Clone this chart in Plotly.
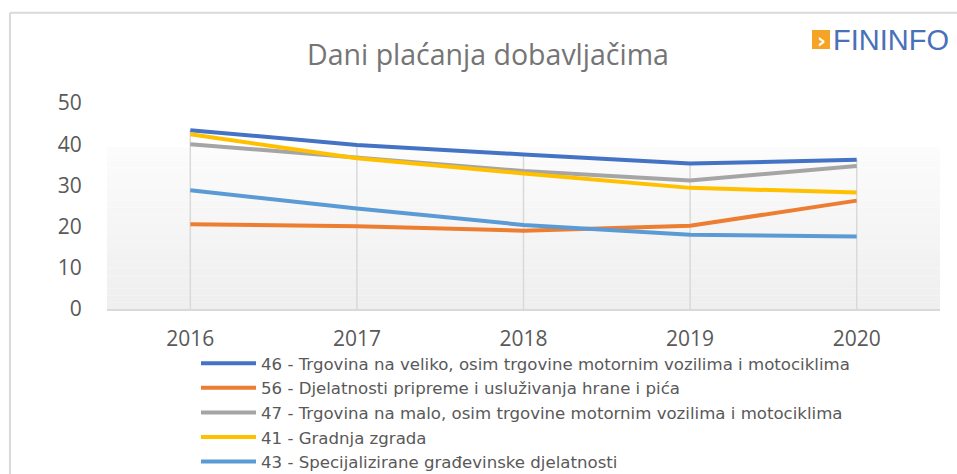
import plotly.graph_objects as go

years = [2016, 2017, 2018, 2019, 2020]
series_names = [
    "46 - Trgovina na veliko, osim trgovine motornim vozilima i motociklima",
    "56 - Djelatnosti pripreme i usluživanja hrane i pića",
    "47 - Trgovina na malo, osim trgovine motornim vozilima i motociklima",
    "41 - Gradnja zgrada",
    "43 - Specijalizirane građevinske djelatnosti",
]
s46 = [43.4, 39.8, 37.5, 35.3, 36.2]
s56 = [20.6, 20.1, 19.0, 20.2, 26.3]
s47 = [40.0, 36.7, 33.5, 31.2, 34.7]
s41 = [42.4, 36.6, 32.9, 29.4, 28.3]
s43 = [28.8, 24.4, 20.4, 18.0, 17.6]
series_values = [s46, s56, s47, s41, s43]
series_colors = ["#4472C4", "#ED7D31", "#A5A5A5", "#FFC000", "#5B9BD5"]
y_ticks = [0, 10, 20, 30, 40, 50]

TXT = "#595959"
FONT = "Open Sans"

fig = go.Figure()

# drop lines from the highest value in each year down to the axis
tops = [max(v[i] for v in series_values) for i in range(len(years))]
dx, dy = [], []
for yr, t in zip(years, tops):
    dx += [yr, yr, None]
    dy += [0, t, None]
fig.add_trace(go.Scatter(x=dx, y=dy, mode="lines", line=dict(color="#d9d9d9", width=1.5),
                         showlegend=False, hoverinfo="skip"))

for name, vals, col in zip(series_names, series_values, series_colors):
    fig.add_trace(go.Scatter(x=years, y=vals, name=name, mode="lines",
                             line=dict(color=col, width=4)))

shapes = []
# gradient plot-area fill (bands)
n = 24
top_val = 39.3
for i in range(n):
    y0 = top_val * i / n
    y1 = top_val * (i + 1) / n
    c = int(239 + (252 - 239) * (i / (n - 1)))
    shapes.append(dict(type="rect", xref="paper", yref="y", x0=0, x1=1, y0=y0, y1=y1,
                       fillcolor=f"rgb({c},{c},{c})", line=dict(width=0), layer="below"))
# chart border
shapes.append(dict(type="line", xref="paper", yref="paper", x0=-0.1165, x1=1.2,
                   y0=1.4383, y1=1.4383, line=dict(color="#d9d9d9", width=2)))
shapes.append(dict(type="line", xref="paper", yref="paper", x0=-0.1165, x1=-0.1165,
                   y0=1.4383, y1=-0.9, line=dict(color="#d9d9d9", width=2)))
# logo square
shapes.append(dict(type="rect", xref="paper", yref="paper",
                   x0=(812 - 107) / 833, x1=(830 - 107) / 833,
                   y0=(309 - 49) / 206, y1=(309 - 30) / 206,
                   fillcolor="#F5A425", line=dict(width=0)))

annotations = [
    dict(text="FININFO", xref="paper", yref="paper", x=(831 - 107) / 833, y=(309 - 40) / 206,
         xanchor="left", yanchor="middle", showarrow=False,
         font=dict(family="Liberation Sans", size=29, color="#4A70B8")),
    dict(text="<b>›</b>", xref="paper", yref="paper", x=(821.5 - 107) / 833, y=(309 - 41) / 206,
         xanchor="center", yanchor="middle", showarrow=False,
         font=dict(family="DejaVu Sans", size=22, color="white")),
]

fig.update_layout(
    width=957, height=474,
    margin=dict(l=107, r=17, t=103, b=165, autoexpand=False),
    paper_bgcolor="white", plot_bgcolor="white",
    title=dict(text="Dani plaćanja dobavljačima", x=488 / 957, xanchor="center",
               y=1 - 55 / 474, yanchor="middle",
               font=dict(family=FONT, size=28.5, color="#757575")),
    font=dict(family=FONT, color=TXT),
    xaxis=dict(range=[2015.5, 2020.5], tickvals=years, ticktext=[str(y) for y in years],
               showgrid=False, zeroline=False, showline=True, linecolor="#d9d9d9", linewidth=1.5,
               ticks="outside", ticklen=10, tickcolor="rgba(0,0,0,0)",
               tickfont=dict(family=FONT, size=21, color=TXT)),
    yaxis=dict(range=[0, 50], tickvals=y_ticks, showgrid=False, zeroline=False, showline=False,
               ticks="outside", ticklen=20, tickcolor="rgba(0,0,0,0)",
               tickfont=dict(family=FONT, size=21, color=TXT)),
    legend=dict(orientation="v", x=(196 - 107) / 833, xanchor="left",
                y=(309 - 346) / 206, yanchor="top", itemwidth=55,
                font=dict(family="DejaVu Sans", size=16.6, color=TXT), bgcolor="rgba(0,0,0,0)"),
    shapes=shapes, annotations=annotations,
    showlegend=True,
)

fig.write_html("out.html", config={"displayModeBar": False},
               post_script="document.body.style.margin='0';document.body.style.overflow='hidden';")
